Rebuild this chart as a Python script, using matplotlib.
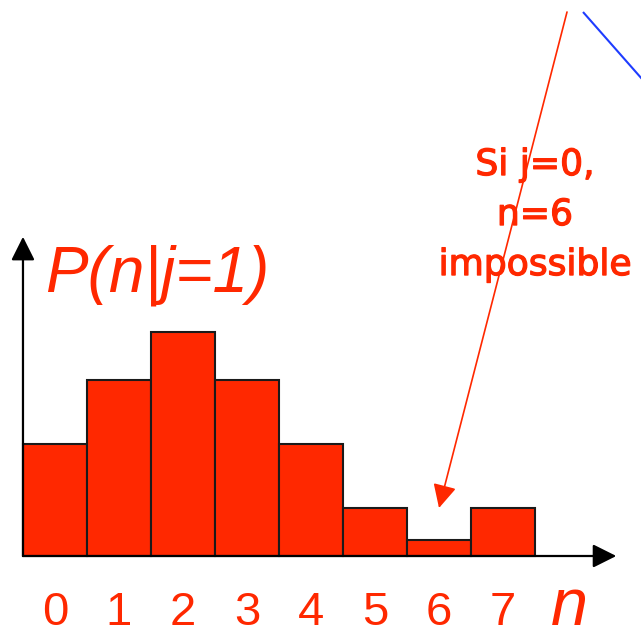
import numpy as np
import matplotlib.pyplot as plt
import matplotlib.patheffects as pe

# histogram of P(n | j=1), relative heights
n_values = [0, 1, 2, 3, 4, 5, 6, 7]
p_values = [7, 11, 14, 11, 7, 3, 1, 3]
tick_labels = ['0', '1', '2', '3', '4', '5', '6', '7']
note_lines = ['Si j=0,', 'n=6', 'impossible']

red = '#ff2800'

fig = plt.figure(figsize=(6.41, 6.31), dpi=100)
ax = fig.add_axes([0, 0, 1, 1])
ax.set_xlim(-0.859, 9.156)
ax.set_ylim(-4.6875, 34.75)
ax.axis('off')

ax.bar(n_values, p_values, width=1.0, color=red,
       edgecolor='#1a1a1a', linewidth=1.5, zorder=2)

# axes with filled arrow heads
head = dict(arrowstyle='-|>', mutation_scale=36, lw=1.6,
            color='black', shrinkA=0, shrinkB=0)
ax.annotate('', xy=(-0.5, 19.95), xytext=(-0.5, 0), arrowprops=head, zorder=3)
ax.annotate('', xy=(8.77, 0), xytext=(-0.5, 0), arrowprops=head, zorder=3)

ax.text(-0.16, 16.56, 'P(n|j=1)', color=red, fontsize=46, style='italic',
        family='Liberation Sans', ha='left', va='baseline')

for n, lab in zip(n_values, tick_labels):
    ax.text(n, -4.3, lab, color=red, fontsize=34, family='Liberation Sans',
            ha='center', va='baseline')
ax.text(8.03, -4.3, 'n', color=red, fontsize=48, style='italic',
        family='Liberation Sans', ha='center', va='baseline')

# note about n=6 with pointer to bar 6
thick = [pe.withStroke(linewidth=0.9, foreground=red)]
for i, line in enumerate(note_lines):
    ax.text(7.5, 23.81 - 3.125 * i, line, color=red, fontsize=26,
            family='DejaVu Sans', ha='center', va='baseline', zorder=4,
            path_effects=thick)
ax.annotate('', xy=(6.0, 3.0), xytext=(8.0, 34.0),
            arrowprops=dict(arrowstyle='-|>', mutation_scale=36, lw=1.2,
                            color=red, shrinkA=0, shrinkB=0), zorder=5)

# blue line leaving the frame at the top right
ax.plot([8.25, 10.08], [34.0, 25.69], color='#1e3cff', lw=1.5,
        solid_capstyle='butt')

fig.savefig('out.png', dpi=100)
